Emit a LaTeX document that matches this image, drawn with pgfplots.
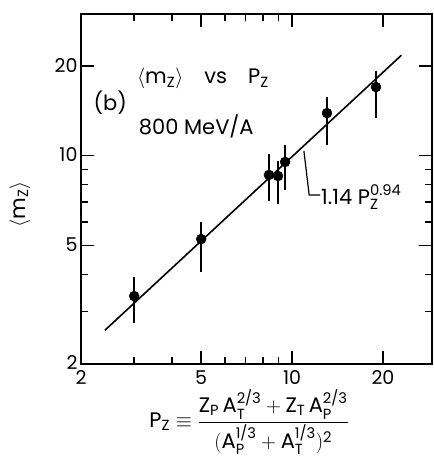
\documentclass[border=0pt]{standalone}
\usepackage{amsmath}
\usepackage{fontspec}
\setmainfont{Poppins}
\usepackage{pgfplots}
\pgfplotsset{compat=1.18}

\newcommand{\tx}[1]{\text{#1}}
\newcommand{\labfont}{\fontsize{21}{24}\selectfont}

\pgfplotstableread{
x     y     ep    em
3.00  3.38  0.54  0.63
5.00  5.25  0.74  1.18
8.38  8.62  1.48  1.57
8.98  8.55  1.05  1.67
9.48  9.53  1.37  1.86
13.05 13.9  1.80  3.00
18.96 17.0  2.20  3.60
}\mzdata

\begin{document}
\begin{tikzpicture}
\begin{axis}[
  xmode=log, ymode=log,
  scale only axis, width=351pt, height=350pt,
  xmin=2, xmax=29.06, ymin=2, ymax=29.9,
  xtick={2,5,10,20}, xticklabels={2,5,10,20},
  ytick={2,5,10,20}, yticklabels={2,5,10,20},
  minor xtick={3,4,6,7,8,9},
  minor ytick={3,4,6,7,8,9},
  major tick length=13pt, minor tick length=7pt,
  tick style={black, line width=1.4pt},
  axis line style={line width=1.8pt},
  tick label style={font=\fontsize{19}{20}\selectfont},
  /pgf/number format/assume math mode=true,
  xticklabel style={yshift=-3pt},
  yticklabel style={xshift=0pt, yshift=1pt},
  clip=false,
]
\coordinate (sw) at (rel axis cs:0,0);
\coordinate (ne) at (rel axis cs:1,1);

% measured points with their error bars
\addplot[only marks, mark=*, mark size=5pt, black,
  error bars/.cd, y dir=both, y explicit, error mark=none,
  error bar style={line width=1.5pt}]
  table[x=x, y=y, y error plus=ep, y error minus=em] {\mzdata};

% power-law fit 1.14 P_Z^0.94 (straight on log-log axes)
\addplot[black, line width=1.6pt] coordinates {(2.4,2.596) (23,21.73)};

\node[anchor=west, font=\labfont] at (rel axis cs:0.150,0.815)
  {$\langle\tx{m}_{\tx{Z}}\rangle$\quad vs\quad $\tx{P}_{\tx{Z}}$};
\node[anchor=west, font=\labfont] at (rel axis cs:0.026,0.746) {(b)};
\node[anchor=west, font=\labfont] at (rel axis cs:0.155,0.68) {800 MeV/A};

\draw[line width=1.2pt] (rel axis cs:0.635,0.609) -- (rel axis cs:0.650,0.483) -- (rel axis cs:0.681,0.483);
\node[anchor=west, font=\labfont, inner sep=1pt] at (rel axis cs:0.681,0.477)
  {1.14 $\tx{P}_{\tx{Z}}^{\tx{0.94}}$};

\node[rotate=90, font=\labfont] at (rel axis cs:-0.174,0.457)
  {$\langle\tx{m}_{\tx{Z}}\rangle$};

\node[font=\labfont] at (rel axis cs:0.479,-0.166)
  {$\tx{P}_{\tx{Z}}\equiv$\ $\dfrac{\tx{Z}_{\tx{P}}\,\tx{A}_{\tx{T}}^{\tx{2/3}}+\tx{Z}_{\tx{T}}\,\tx{A}_{\tx{P}}^{\tx{2/3}}}{(\tx{A}_{\tx{P}}^{\tx{1/3}}+\tx{A}_{\tx{T}}^{\tx{1/3}})^{\tx{2}}}$};
\end{axis}
\pgfresetboundingbox
\path[use as bounding box] ([shift={(-81pt,-95pt)}]sw) rectangle ([shift={(1pt,14pt)}]ne);
\end{tikzpicture}
\end{document}
